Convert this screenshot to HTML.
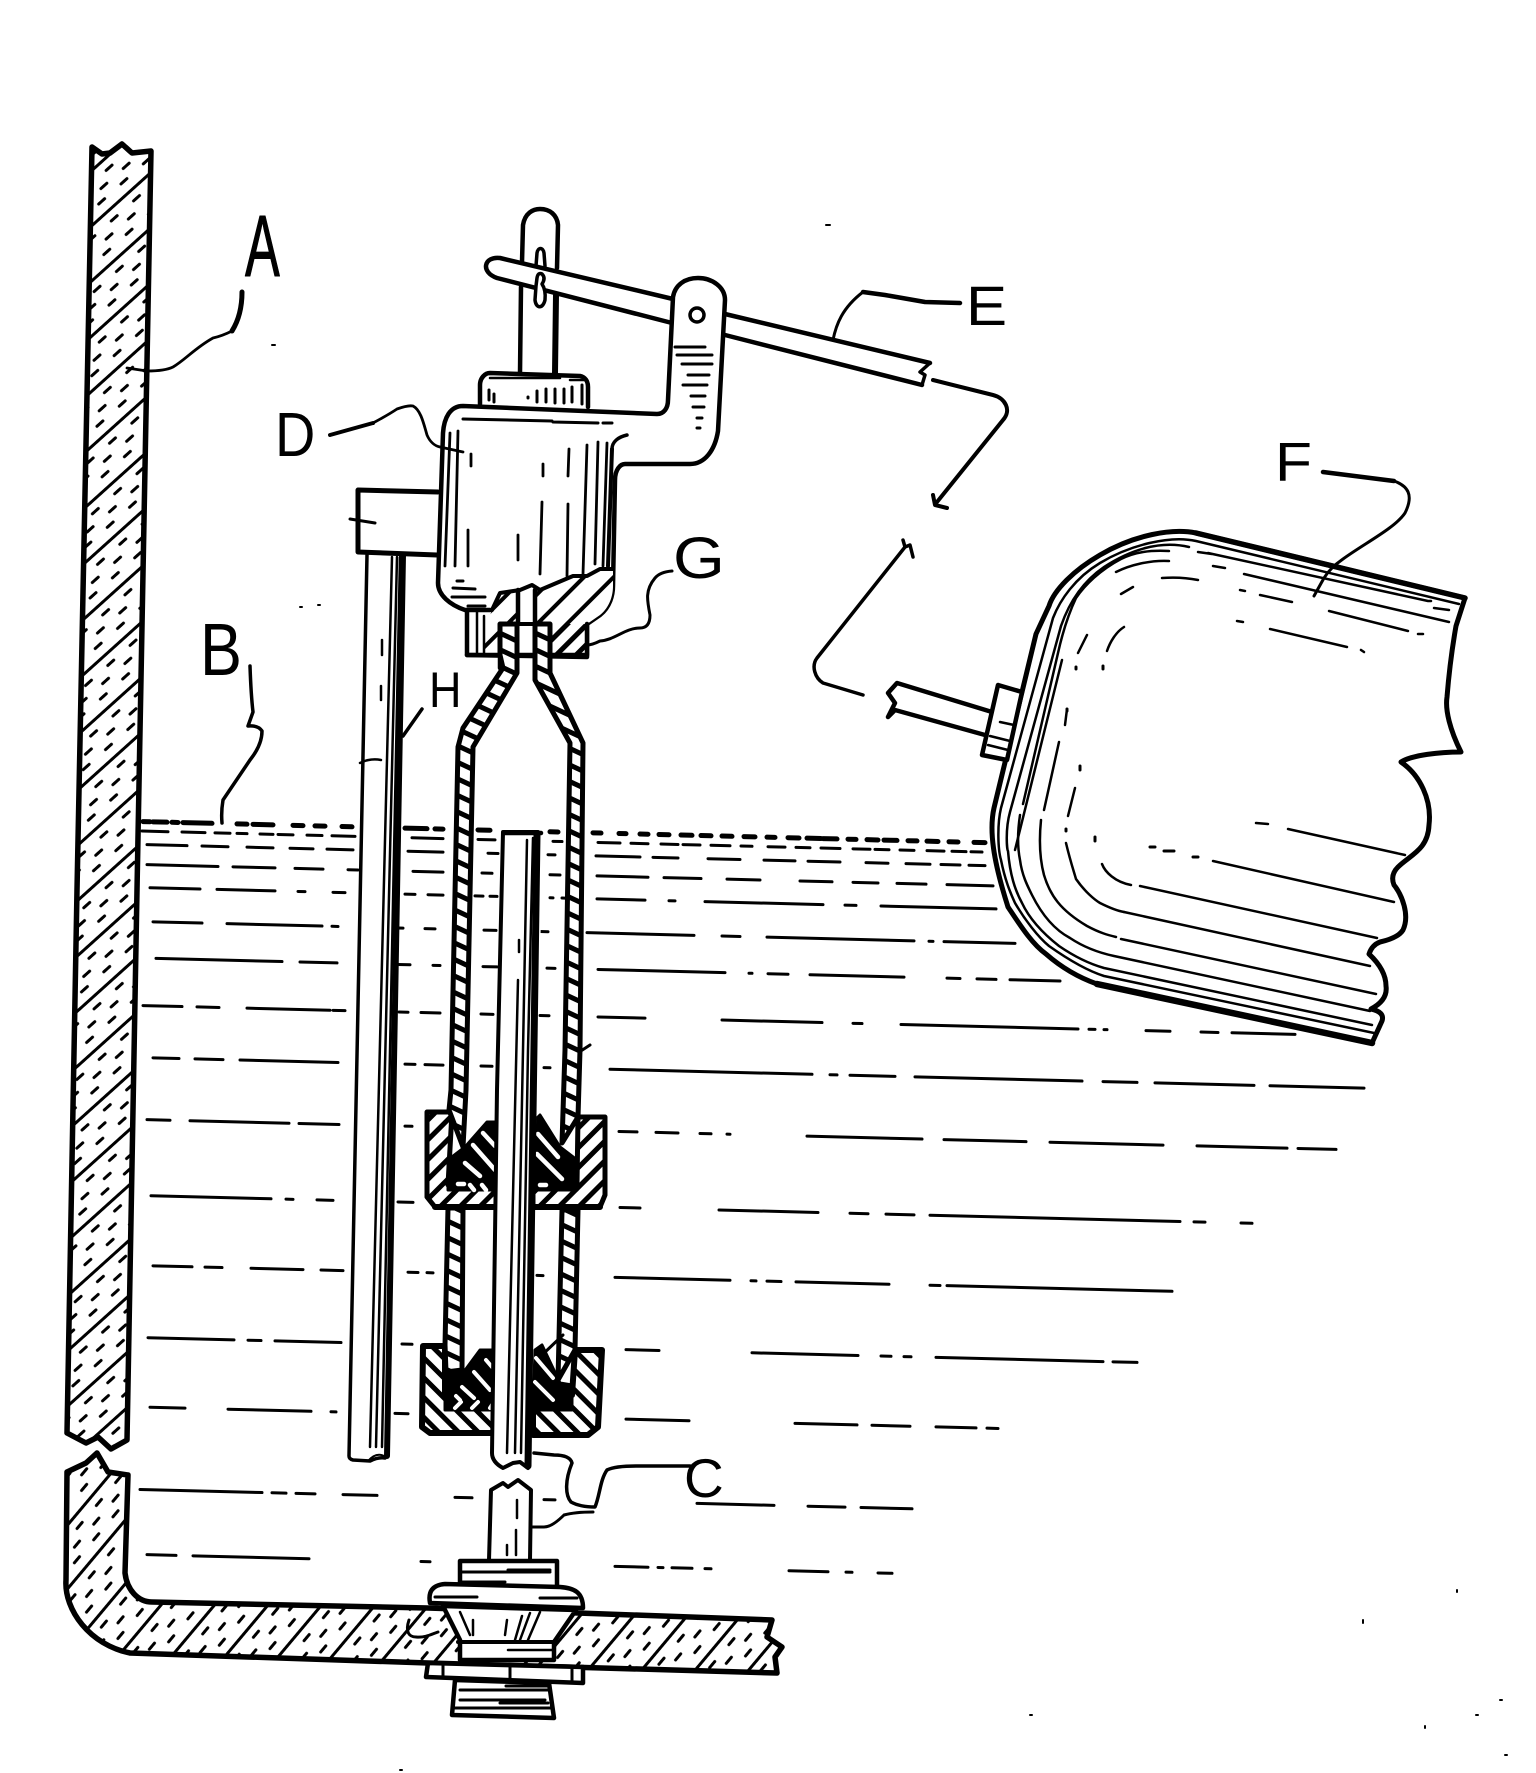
<!DOCTYPE html>
<html><head><meta charset="utf-8"><style>
html,body{margin:0;padding:0;background:#fff}
svg{display:block}
text{font-family:"Liberation Sans",sans-serif;fill:#000}
</style></head><body>
<svg xmlns="http://www.w3.org/2000/svg" width="1536" height="1773" viewBox="0 0 1536 1773" fill="none" stroke="#000" stroke-linecap="round" stroke-linejoin="round">
<defs>
<pattern id="wh" width="60" height="41" patternUnits="userSpaceOnUse" patternTransform="translate(147 174) rotate(-42)">
<rect width="60" height="41" fill="#fff" stroke="none"/><rect width="60" height="3" fill="#000" stroke="none"/>
<path stroke-width="3" d="M2 11h8M32 11h8M16 21h8M46 21h8M4 31h8M34 31h8"/>
</pattern>
<pattern id="fh" width="60" height="41" patternUnits="userSpaceOnUse" patternTransform="translate(123 1648) rotate(-50)">
<rect width="60" height="41" fill="#fff" stroke="none"/><rect width="60" height="3" fill="#000" stroke="none"/>
<path stroke-width="3" d="M2 11h8M32 11h8M16 21h8M46 21h8M4 31h8M34 31h8"/>
</pattern>
<pattern id="tw" width="30" height="15" patternUnits="userSpaceOnUse" patternTransform="rotate(25)">
<rect width="30" height="15" fill="#fff" stroke="none"/><rect width="30" height="5" fill="#000" stroke="none"/>
</pattern>
<pattern id="n1" width="14" height="14" patternUnits="userSpaceOnUse" patternTransform="rotate(-45)">
<rect width="14" height="14" fill="#fff" stroke="none"/><rect width="14" height="5" fill="#000" stroke="none"/>
</pattern>
<pattern id="n2" width="14" height="14" patternUnits="userSpaceOnUse" patternTransform="rotate(45)">
<rect width="14" height="14" fill="#fff" stroke="none"/><rect width="14" height="5" fill="#000" stroke="none"/>
</pattern>
<pattern id="sh" width="21" height="21" patternUnits="userSpaceOnUse" patternTransform="rotate(-45)">
<rect width="21" height="21" fill="#fff" stroke="none"/><rect width="21" height="4" fill="#000" stroke="none"/>
</pattern>
</defs>

<!-- water -->
<g transform="matrix(1 .025 0 1 0 0)" stroke-width="3">
<path stroke-width="5" d="M143 818H150M153 818H167M172 818H178M183 818H212M237 818H247M253 818H273M293 818H303M315 818H325M342 818H352M405 818H427M435 818H443M478 818H490M550 818H558M593 818H601M619 818H626M640 818H648M659 818H669M681 818H692M701 818H711M722 818H732M744 818H755M767 818H775M788 818H799M807 818H821M823 818H837M848 818H856M867 818H878M884 818H897M908 818H917M927 818H938M949 818H958M974 818H985"/>
<path d="M142 827.5H168M182 827.5H205M215 827.5H230M237 827.5H247M260 827.5H273M278 827.5H293M307 827.5H322M332 827.5H355M412 827.5H443M478 827.5H495M553 827.5H562M598 827.5H620M631 827.5H648M661 827.5H678M683 827.5H700M711 827.5H730M741 827.5H752M768 827.5H785M796 827.5H810M821 827.5H840M853 827.5H870M875 827.5H889M900 827.5H914M927 827.5H944M952 827.5H966M971 827.5H982"/>
<path d="M147 841H187M202 841H228M247 841H273M290 841H313M327 841H353M408 841H443M488 841H498M548 841H555M596 841H640M653 841H678M708 841H740M764 841H795M808 841H840M866 841H888M906 841H930M941 841H960M969 841H985"/>
<path d="M147 861H218M233 861H275M295 861H323M348 861H358M413 861H443M482 861H492M550 861H560M597 861H648M664 861H701M727 861H760M800 861H832M853 861H878M897 861H926M947 861H993"/>
<path d="M150 884H200M217 884H275M298 884H305M333 884H345M405 884H415M428 884H443M475 884H483M490 884H497M550 884H553M562 884H565M597 884H645M669 884H675M705 884H823M845 884H856M881 884H996"/>
<path d="M153 918H202M227 918H322M332 918H338M398 918H403M425 918H435M484 918H496M540 918H548M587 918H694M722 918H740M767 918H914M929 918H933M944 918H1015"/>
<path d="M156 954.5H282M300 954.5H337M398 954.5H410M433 954.5H440M483 954.5H497M547 954.5H555M598 954.5H725M749 954.5H752M768 954.5H788M810 954.5H904M947 954.5H960M977 954.5H996M1010 954.5H1060"/>
<path d="M143 1002H182M197 1002H219M247 1002H330M333 1002H345M399 1002H408M421 1002H440M481 1002H493M540 1002H549M598 1002H645M722 1002H822M853 1002H862M901 1002H1078M1089 1002H1095M1104 1002H1107M1146 1002H1170M1201 1002H1218M1232 1002H1295"/>
<path d="M153 1054H179M195 1054H223M240 1054H338M405 1054H415M425 1054H443M481 1054H492M544 1054H550M610 1054H812M830 1054H837M850 1054H895M915 1054H1082M1103 1054H1137M1155 1054H1254M1270 1054H1364"/>
<path d="M147 1116H170M190 1116H289M299 1116H339M405 1116H412M619 1116H637M656 1116H678M700 1116H711M727 1116H730M807 1116H922M944 1116H1026M1050 1116H1163M1197 1116H1287M1298 1116H1336"/>
<path d="M151 1192H271M286 1192H293M317 1192H333M398 1192H413M620 1192H640M719 1192H818M850 1192H868M886 1192H914M930 1192H1180M1194 1192H1205M1241 1192H1252"/>
<path d="M153 1262H192M205 1262H222M251 1262H303M321 1262H343M408 1262H418M427 1262H433M537 1262H543M615 1262H730M751 1262H756M767 1262H781M796 1262H889M930 1262H940M947 1262H1172"/>
<path d="M148 1334H234M248 1334H261M275 1334H341M402 1334H412M626 1334H659M752 1334H858M881 1334H891M904 1334H911M936 1334H1103M1113 1334H1137"/>
<path d="M150 1403.5H185M228 1403.5H311M331 1403.5H336M395 1403.5H408M626 1403.5H689M795 1403.5H857M872 1403.5H910M936 1403.5H976M987 1403.5H998"/>
<path d="M140 1486H262M272 1486H286M296 1486H315M343 1486H377M455 1486H472M544 1486H555M697 1486H774M808 1486H845M861 1486H912"/>
<path d="M147 1551H176M193 1551H309M421 1551H430M615 1551H648M658 1551H663M672 1551H692M705 1551H711M789 1551H828M846 1551H852M878 1551H892"/>
</g>

<!-- wall upper -->
<path d="M92 147L102 154L110 153L122 144L132 153L151 151L137 890L127 1440L111 1449L98 1437L86 1443L67 1433L77 890Z" fill="url(#wh)" stroke-width="5.5"/>
<!-- wall lower + floor -->
<path d="M67 1472L86 1463L97 1453L108 1472L128 1475L125 1573C127 1590 138 1602 152 1602L428 1608L578 1613L772 1620L767 1637L782 1647L775 1657L777 1673L428 1663L130 1653C90 1645 64 1610 66 1580Z" fill="url(#fh)" stroke-width="5.5"/>
<path d="M409 1620C405 1632 409 1637 416 1637C425 1638 432 1634 438 1632" stroke-width="3"/>

<!-- float rod H -->
<path d="M367 555L349 1456Q348 1460 352 1460L368 1461Q376 1457 387 1459L403 555Z" fill="#fff" stroke="none"/>
<path d="M367 555L349 1456Q349 1459 353 1460L370 1461Q378 1457 385 1458" stroke-width="3.5"/>
<path d="M403 555L387 1456" stroke-width="6"/>
<path d="M392 557L370 1447M397 557L376 1447M400 557L382 1447" stroke-width="2.5"/>
<path d="M368 1461Q376 1452 384 1456" stroke-width="2"/>
<path d="M382 640V655M381 686V700" stroke-width="2.5"/>
<path d="M360 763Q370 758 381 760" stroke-width="2.5"/>

<!-- bracket -->
<path d="M438 492L358 490V552L437 555" fill="#fff" stroke-width="5"/>
<path d="M350 519L375 523" stroke-width="3"/>

<!-- nuts -->
<path d="M427 1112H452L448 1185H498V1207H435L427 1197Z" fill="url(#n1)" stroke-width="5"/>
<path d="M578 1117H605V1195L600 1207H533V1185H577Z" fill="url(#n1)" stroke-width="5"/>
<path d="M448 1160L465 1147L487 1122H498V1190H448Z" fill="#000" stroke-width="3"/>
<path d="M533 1122L540 1115L560 1147L577 1160V1190H533Z" fill="#000" stroke-width="3"/>
<path d="M483 1133L495 1146M473 1145L495 1170M465 1163L480 1176M538 1134L558 1157M537 1154L562 1179M458 1184H464M470 1185L474 1190M482 1185L486 1190M540 1185H546" stroke="#fff" stroke-width="4.5"/>

<path d="M423 1346H445V1395H495V1433H430L422 1427Z" fill="url(#n2)" stroke-width="6"/>
<path d="M575 1350H602L598 1427L588 1435H533V1395H572Z" fill="url(#n2)" stroke-width="6"/>
<path d="M445 1375L463 1373L480 1350H495V1410H445Z" fill="#000" stroke-width="3"/>
<path d="M535 1350L542 1345L560 1383L572 1385V1410H533Z" fill="#000" stroke-width="3"/>
<path d="M486 1360L492 1367M474 1372L490 1390M462 1387L474 1398M536 1358L553 1378M535 1382L553 1400M456 1396L460 1400M455 1408L461 1402M472 1408L478 1402M490 1408L494 1402" stroke="#fff" stroke-width="4"/>

<!-- lower tube walls -->
<path d="M448 1208L445 1345L446 1372L462 1370L463 1208Z" fill="url(#tw)" stroke-width="5"/>
<path d="M562 1210L558 1380L575 1350L578 1210Z" fill="url(#tw)" stroke-width="5"/>
<path d="M435 1207H498M533 1207H600" stroke-width="6"/>
<path d="M567 1060L590 1045M542 1355L563 1335" stroke-width="3"/>

<!-- stem C upper -->
<path d="M503 832H543L528 1460L520 1462L513 1463L503 1468L492 1460Z" fill="#fff" stroke="none"/>
<path d="M538 832H503L497 1090L492 1453Q492 1462 503 1468L513 1463L520 1462L528 1468" stroke-width="4"/>
<path d="M505 833H541" stroke-width="4.5"/>
<path d="M537 834L528 1466" stroke-width="7"/>
<path d="M527 840L523 1050L515 1453" stroke-width="2.5"/>
<path d="M533 838L528 1050L521 1453" stroke-width="2.5"/>
<path d="M519 940V952M518 980L507 1453" stroke-width="2.5"/>
<!-- stem lower -->
<path d="M489 1560L491 1490L503 1483L508 1487L518 1480L531 1490L530 1560" fill="#fff" stroke-width="4"/>
<path d="M517 1500V1518M516 1530V1555M507 1545V1555" stroke-width="2.5"/>

<!-- fitting -->
<path d="M460 1583V1561H557V1585" fill="#fff" stroke-width="4.5"/>
<path d="M460 1572H550M508 1570H550M460 1582H505" stroke-width="3"/>
<path d="M430 1603C428 1592 432 1585 445 1584L560 1587C574 1588 583 1592 583 1608Z" fill="#fff" stroke-width="4.5"/>
<path d="M435 1597H477M540 1598H577" stroke-width="3"/>
<path d="M443 1606L460 1640V1660H554V1642L576 1610Z" fill="#fff" stroke-width="4.5"/>
<path d="M458 1642H556" stroke-width="4"/>
<path d="M460 1612L470 1635M473 1620V1635M507 1620L505 1635M522 1616L515 1640M530 1613L520 1640M540 1612L528 1640M508 1650H552" stroke-width="2.5"/>
<path d="M428 1663L426 1677L583 1683V1667Z" fill="#fff" stroke-width="4.5"/>
<path d="M443 1665L443 1678M510 1667V1680M572 1668V1682" stroke-width="3"/>
<path d="M455 1680L452 1715L554 1718L549 1683Z" fill="#fff" stroke-width="4.5"/>
<path d="M460 1690H548M506 1686H548M460 1700H545M500 1703H548M455 1708H552" stroke-width="3"/>

<!-- guide stem -->
<path d="M520 373L523 225C525 213 533 209 540 209C550 209 557 215 558 225L555 373Z" fill="#fff" stroke="none"/>
<path d="M520 373L521 287M522 262L523 225C525 213 533 209 540 209C550 209 557 215 558 225L557 268" stroke-width="4.5"/>
<path d="M555 373L556 295" stroke-width="6"/>
<!-- lever -->
<path d="M500 258L673 299L672 323L497 278C485 276 484 259 500 258Z" fill="#fff" stroke="none"/>
<path d="M673 299L500 258C484 256 480 272 497 278L672 323" stroke-width="4.5"/>
<path d="M725 314L930 363M725 335L922 385" stroke-width="4.5"/>
<path d="M922 385L925 375L920 372L930 363" stroke-width="3.5"/>
<path d="M536 266L537 253C538 247 543 247 544 253L545 266" stroke-width="3.5"/>
<path d="M537 278Q538 272 542 274Q546 278 542 284Q546 290 545 300C543 309 536 309 535 300L536 286Z" stroke-width="3.5" fill="#fff"/>

<!-- cap -->
<path d="M480 404V385C480 378 485 373 490 373L580 376C585 377 588 381 588 387V407" fill="#fff" stroke-width="4.5"/>
<path d="M490 378H560M570 380H585" stroke-width="2.5"/>
<path d="M489 390V400M494 394V402M528 397V398M537 391V402M546 389V402M555 389V403M564 389V403M572 387V402M582 385V404" stroke-width="3"/>

<!-- body -->
<path d="M443 433C444 418 450 406 463 406L657 414C664 414 668 408 668 400L673 297C675 285 685 278 698 278C712 278 725 287 725 300L718 431C715 450 705 464 690 464H625C620 464 615 470 615 480L613 586C613 595 610 607 600 615L587 624V657L467 655V610H465C450 605 438 595 438 583Z" fill="#fff" stroke-width="4.5"/>
<!-- body section -->
<path d="M535 590L550 585L573 576H587L600 569H613V586C613 595 610 607 600 615L587 624H550V624L535 624Z" fill="url(#sh)" stroke="none"/>
<path d="M550 624H587V657H550Z" fill="url(#n1)" stroke="none"/>
<path d="M492 610L500 593L518 590V624L500 630V657H483V634Z" fill="url(#sh)" stroke="none"/>
<path d="M492 610L500 593L520 590L532 585L540 590L573 576H587L600 569L613 569" stroke-width="4"/>
<path d="M518 590V624M535 590V624" stroke-width="4.5"/>
<path d="M467 610H490M467 655H587V624M550 655V672M500 655V668" stroke-width="4.5"/>
<path d="M477 612V655M484 616V655" stroke-width="2.5"/>
<path d="M612 449C612 442 618 437 627 435" stroke-width="3.5"/>
<path d="M612 449L608 566" stroke-width="4"/>
<path d="M450 433L445 566M458 431L455 566M468 530V566M471 454V466M543 464V476M542 502L540 574M518 535V560M569 449L568 476M568 504L567 576M587 445L583 574M598 442L595 564M607 443L603 566" stroke-width="2.8"/>
<path d="M463 419L552 421M553 422L598 423M603 423H612" stroke-width="3"/>
<path d="M457 581H463M453 588L475 589M452 597H485M468 606H485" stroke-width="3"/>
<!-- head details -->
<circle cx="697" cy="315" r="7" fill="#fff" stroke-width="3.5"/>
<path d="M675 347H705M677 355H712M682 364H712M688 375H709M683 385H707M691 396H705M693 407H704M697 418H702M697 428H700" stroke-width="3"/>

<!-- upper tube walls with neck -->
<path d="M500 624V655L503 668L463 728L458 747L451 1090L449 1110L463 1147L466 1090L473 747L517 673V624Z" fill="url(#tw)" stroke-width="5"/>
<path d="M535 624V680L570 743L565 1050L562 1143L578 1117L580 1050L583 743L550 673V624Z" fill="url(#tw)" stroke-width="5"/>
<path d="M517 624H535" stroke-width="4"/>

<!-- rod continuation -->
<path d="M933 380L993 395C1005 398 1012 410 1003 420L937 502" stroke-width="4"/>
<path d="M933 495L935 505L947 508" stroke-width="4"/>
<path d="M913 557L910 545L905 547L903 540M905 547L817 658C811 666 815 678 823 683L863 695" stroke-width="3.5"/>
<path d="M888 693L897 683L992 712M888 717L895 710L985 735M888 693L895 703L888 717" stroke-width="4.5"/>

<!-- float -->
<path d="M1465 598L1196 533C1172 528 1134 535 1100 555C1074 570 1054 590 1049 606L1036 634L994 808C989 830 993 860 1008 907C1020 925 1032 944 1046 954C1062 968 1080 978 1097 984L1372 1043L1382 1021Q1385 1012 1371 1009Q1388 1000 1386 986Q1386 970 1369 954Q1372 945 1380 942Q1398 938 1403 930C1410 915 1402 895 1394 885Q1390 875 1398 867C1410 855 1428 850 1429 825C1432 800 1420 775 1401 762C1412 755 1440 752 1461 752C1450 730 1445 710 1447 697Q1450 660 1456 626Z" fill="#fff" stroke-width="5"/>
<path d="M1097 984L1372 1043" stroke-width="6.5"/>
<path d="M1196 533L1465 598" stroke-width="5.5"/>
<path d="M1459 604L1196 541C1170 535 1130 545 1100 563C1075 578 1060 600 1053 618L1001 808C997 825 998 850 1001 860C1005 880 1010 892 1015 903C1025 920 1038 937 1049 946C1066 958 1085 970 1104 976L1374 1033" stroke-width="2.5"/>
<path d="M1189 547C1160 540 1130 550 1104 567C1085 580 1070 600 1061 626L1010 812C1005 830 1007 850 1008 851C1010 875 1015 890 1022 903C1030 920 1045 935 1059 946C1075 957 1090 964 1104 968L1372 1025" stroke-width="2.5"/>
<path d="M1169 551C1150 550 1135 552 1121 559C1100 570 1085 585 1076 598C1068 615 1062 635 1058 653L1023 804M1020 815C1017 835 1018 850 1020 860C1022 875 1027 885 1032 895C1042 915 1055 930 1070 938C1085 948 1100 953 1114 956L1370 1011" stroke-width="2.5"/>
<path d="M1121 939L1376 994M1124 912L1370 966M1140 886L1377 938M1213 861L1394 902M1288 829L1405 855M1256 823L1268 824" stroke-width="2.5"/>
<path d="M1198 552L1212 554M1208 553L1428 601L1431 601M1434 608L1449 610M1213 566L1225 568M1244 574L1449 622M1240 590L1245 591M1260 595L1292 602M1329 611L1408 631M1418 634L1423 634M1237 621L1243 622M1270 629L1347 647M1361 650L1364 652M1169 561C1150 560 1130 565 1116 572M1162 578C1175 577 1188 578 1198 580M1121 594L1133 587M1107 651C1110 642 1116 632 1124 627M1078 653L1087 635" stroke-width="2.5"/>
<path d="M1062 660L1015 850M1065 725L1067 709M1059 742L1044 810M1075 788L1068 816M1041 820C1039 840 1040 860 1044 875C1050 895 1060 910 1087 926C1100 933 1108 935 1116 937M1066 843C1070 860 1074 872 1076 879C1085 892 1095 900 1100 903C1110 908 1118 911 1124 912M1102 864C1105 872 1115 882 1131 885" stroke-width="2.5"/>
<path d="M1076 667V669M1103 666V669M1067 709V711M1080 766V770M1066 829V831M1095 837V841M1150 847H1155M1164 851H1174M1193 857H1198" stroke-width="3"/>
<!-- collar -->
<path d="M998 685L1022 692L1007 760L982 755Z" fill="#fff" stroke-width="4.5"/>
<path d="M1000 722L1014 725M990 736L1010 741M988 745L1008 750" stroke-width="2.5"/>

<!-- leaders -->
<path d="M242 292Q242 315 232 331" stroke-width="5"/>
<path d="M232 331Q222 336 213 338C195 348 185 360 173 367Q165 371 147 371L127 368" stroke-width="2.8"/>
<path d="M330 435L373 423" stroke-width="4"/>
<path d="M373 423Q388 415 397 409Q408 405 413 406C421 410 424 425 427 435C430 442 435 446 440 447L463 452" stroke-width="2.8"/>
<path d="M250 666Q251 695 253 712L248 726Q258 725 262 731C262 740 258 750 250 760L223 800Q221 812 222 823" stroke-width="3.5"/>
<path d="M422 709L403 736" stroke-width="3.5"/>
<path d="M833 340C836 325 842 308 863 292" stroke-width="3"/>
<path d="M863 292L885 295L925 302L960 303" stroke-width="4.5"/>
<path d="M1323 472L1394 481" stroke-width="4.5"/>
<path d="M1394 481C1408 486 1414 495 1405 513C1395 528 1365 543 1343 559Q1330 568 1324 578L1314 596" stroke-width="3"/>
<path d="M672 571Q660 572 655 578C645 590 647 600 650 615Q650 628 640 628C625 628 615 640 600 641Q592 645 587 645" stroke-width="3"/>
<path d="M690 1466H636Q615 1466 607 1470C600 1480 600 1495 595 1507Q580 1507 571 1502C565 1495 565 1480 572 1463Q570 1455 554 1455L534 1453" stroke-width="3.5"/>
<path d="M593 1512Q575 1512 564 1515Q552 1527 544 1527L530 1527" stroke-width="3"/>

<!-- specks -->
<path d="M826 225h4M272 345h3M300 607h2M318 605h2M1457 1590v2M1363 1620v3M1500 1700h2M1476 1715h2M1030 1715h2M1425 1726v2M400 1770h2M1505 1755h2" stroke-width="2"/>

<!-- labels -->
<text transform="translate(245 276) scale(.6 1)" font-size="87" stroke="#000" stroke-width="1">A</text>
<text transform="translate(200 675) scale(.85 1)" font-size="74" stroke="none">B</text>
<text transform="translate(275 456) scale(.9 1)" font-size="62" stroke="none">D</text>
<text transform="translate(966 325) scale(1.1 1)" font-size="56" stroke="none">E</text>
<text transform="translate(1275 481) scale(1.1 1)" font-size="55" stroke="none">F</text>
<text transform="translate(673 578) scale(1.15 1)" font-size="58" stroke="none">G</text>
<text transform="translate(429 707) scale(.9 1)" font-size="50" stroke="none">H</text>
<text transform="translate(684 1497)" font-size="55" stroke="none">C</text>
</svg>
</body></html>
